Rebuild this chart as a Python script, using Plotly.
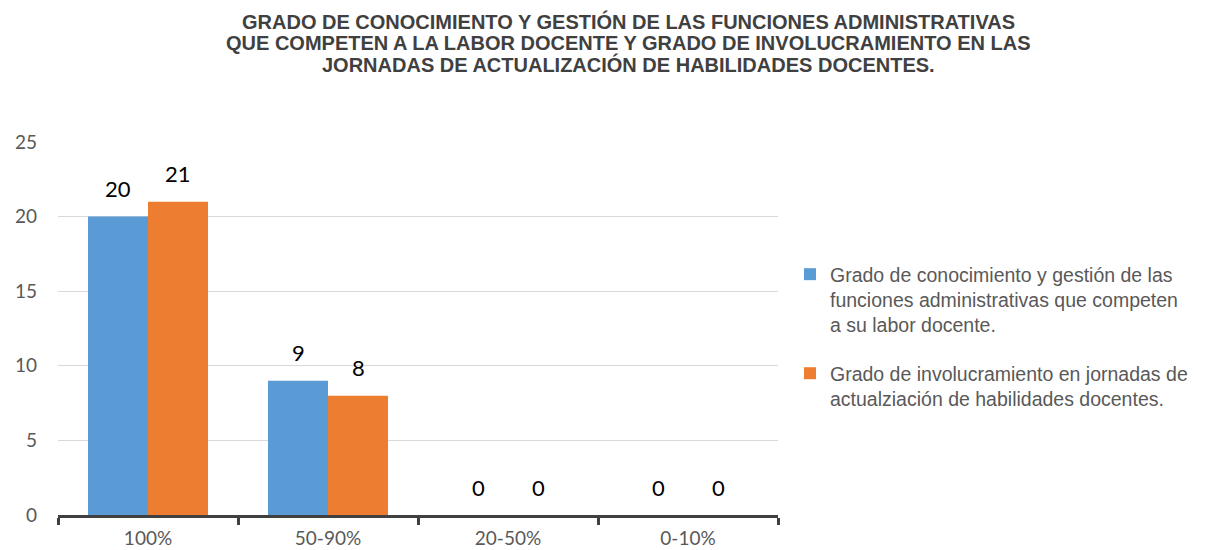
import plotly.graph_objects as go

categories = ["100%", "50-90%", "20-50%", "0-10%"]
serie_conocimiento = [20, 9, 0, 0]
serie_involucramiento = [21, 8, 0, 0]
name_conocimiento = "Grado de conocimiento y gestión de las<br>funciones administrativas que competen<br>a su labor docente."
name_involucramiento = "Grado de involucramiento en jornadas de<br>actualziación de habilidades docentes."
y_ticks = [0, 5, 10, 15, 20, 25]
title_lines = ["GRADO DE CONOCIMIENTO Y GESTIÓN DE LAS FUNCIONES ADMINISTRATIVAS",
               "QUE COMPETEN A LA LABOR DOCENTE Y GRADO DE INVOLUCRAMIENTO EN LAS",
               "JORNADAS DE ACTUALIZACIÓN DE HABILIDADES DOCENTES."]

BLUE = "#5B9BD5"
ORANGE = "#ED7D31"
LABEL_FONT = "Lato, 'Open Sans', sans-serif"
ARIAL = "'Liberation Sans', Arial, sans-serif"

# the page body has an 8px margin; target coordinates are in window pixels
OFF = 8
W, H = 1226 - OFF, 550 - OFF
L, R, T, B = 58 - OFF, 778 - OFF, 142 - OFF, 515 - OFF


def py(p):
    return (B - (p - OFF)) / (B - T)


def px(p):
    return ((p - OFF) - L) / (R - L)


fig = go.Figure()
fig.add_trace(go.Bar(x=categories, y=serie_conocimiento, name=name_conocimiento,
                     marker=dict(color=BLUE, line=dict(width=0)), legendgroup="a"))
fig.add_trace(go.Bar(x=categories, y=serie_involucramiento, name=name_involucramiento,
                     marker=dict(color=ORANGE, line=dict(width=0)), legendgroup="b"))

annotations = []
for cat, v in zip(categories, serie_conocimiento):
    annotations.append(dict(x=cat, y=v, xref="x", yref="y", text=str(v), showarrow=False,
                            xshift=-30, yshift=28, yanchor="middle",
                            font=dict(family=LABEL_FONT, size=22, color="#000000")))
for cat, v in zip(categories, serie_involucramiento):
    annotations.append(dict(x=cat, y=v, xref="x", yref="y", text=str(v), showarrow=False,
                            xshift=30, yshift=28, yanchor="middle",
                            font=dict(family=LABEL_FONT, size=22, color="#000000")))

for line, ypx in zip(title_lines, [21, 43, 64]):
    annotations.append(dict(x=px(628), y=py(ypx), xref="paper", yref="paper",
                            text=line, showarrow=False, xanchor="center", yanchor="middle",
                            font=dict(family=ARIAL, size=20, color="#404040", weight="bold")))

fig.update_layout(
    width=W, height=H,
    margin=dict(l=L, r=W - R, t=T, b=H - B, autoexpand=False),
    paper_bgcolor="white", plot_bgcolor="white",
    barmode="group", bargap=1/3, bargroupgap=0,
    showlegend=True,
    legend=dict(x=px(790), xanchor="left", y=py(255), yanchor="top",
                font=dict(family=ARIAL, size=19.5, color="#595959"),
                valign="top", tracegroupgap=20, itemwidth=30, bgcolor="rgba(0,0,0,0)"),
    annotations=annotations,
    font=dict(family=LABEL_FONT),
)
fig.update_yaxes(range=[0, 25], tickvals=y_ticks, showgrid=True, gridcolor="#D9D9D9", gridwidth=1,
                 zeroline=False, showline=False, ticks="", ticklabelstandoff=20, automargin=False,
                 tickfont=dict(family=LABEL_FONT, size=19, color="#595959"), fixedrange=True)
fig.update_xaxes(showline=True, linecolor="#404040", linewidth=3, ticks="outside", tickson="boundaries",
                 ticklen=7, tickwidth=3, tickcolor="#404040", automargin=False, ticklabelstandoff=4,
                 tickfont=dict(family=LABEL_FONT, size=19, color="#595959"), showgrid=False)

fig.write_html("out.html")
